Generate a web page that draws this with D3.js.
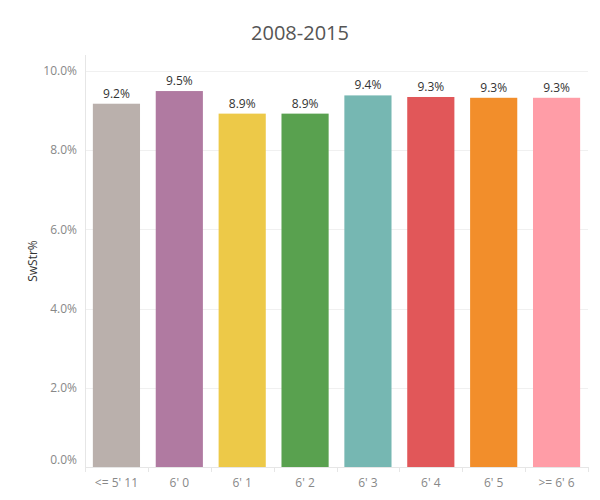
<html>
<head>
<script src="https://d3js.org/d3.v7.min.js"></script>
<style>
body { margin: 0; background: #fff; }
text { font-family: "Open Sans", "Noto Sans", sans-serif; }
</style>
</head>
<body>
<svg width="600" height="500"></svg>
<script>
var heights = ["<= 5' 11", "6' 0", "6' 1", "6' 2", "6' 3", "6' 4", "6' 5", ">= 6' 6"];
var swstr = [9.17, 9.49, 8.92, 8.92, 9.38, 9.34, 9.32, 9.32];
var colors = ["#BAB0AC", "#B07AA1", "#EDC948", "#59A14F", "#76B7B2", "#E15759", "#F28E2B", "#FF9DA7"];
var yTicks = [0, 2, 4, 6, 8, 10];

var svg = d3.select("svg");
var plotL = 85, plotR = 588, plotT = 55, plotB = 467;

var x = d3.scaleBand().domain(heights).range([plotL, plotR]).paddingInner(0.25).paddingOuter(0.125);
var y = d3.scaleLinear().domain([0, 10.4]).range([plotB, plotT]);

// title
svg.append("text")
  .attr("x", 300).attr("y", 40)
  .attr("text-anchor", "middle")
  .attr("font-size", 20)
  .attr("fill", "#555")
  .text("2008-2015");

// gridlines
svg.append("g").selectAll("line").data(yTicks.slice(1)).enter().append("line")
  .attr("x1", plotL).attr("x2", plotR)
  .attr("y1", function(d) { return Math.round(y(d)) + 0.5; })
  .attr("y2", function(d) { return Math.round(y(d)) + 0.5; })
  .attr("stroke", "#f0f0f0");

// y axis
var yAxis = svg.append("g")
  .attr("transform", "translate(" + plotL + ",0)")
  .call(d3.axisLeft(y).tickValues(yTicks).tickSize(0).tickPadding(8)
    .tickFormat(function(d) { return d.toFixed(1) + "%"; }));
yAxis.select(".domain").remove();
yAxis.selectAll("text").attr("fill", "#888").attr("font-size", 12)
  .attr("font-family", "'Open Sans', sans-serif")
  .attr("dy", function(d) { return d == 0 ? "-0.3em" : "0.32em"; });

svg.append("line")
  .attr("x1", plotL + 0.5).attr("x2", plotL + 0.5)
  .attr("y1", plotT).attr("y2", plotB + 5)
  .attr("stroke", "#e6e6e6");

// bars
svg.append("g").selectAll("rect").data(swstr).enter().append("rect")
  .attr("x", function(d, i) { return x(heights[i]); })
  .attr("y", function(d) { return y(d); })
  .attr("width", x.bandwidth())
  .attr("height", function(d) { return y(0) - y(d); })
  .attr("fill", function(d, i) { return colors[i]; });

// bar labels
svg.append("g").selectAll("text").data(swstr).enter().append("text")
  .attr("x", function(d, i) { return x(heights[i]) + x.bandwidth() / 2; })
  .attr("y", function(d) { return y(d) - 6; })
  .attr("text-anchor", "middle")
  .attr("font-size", 12)
  .attr("fill", "#333")
  .text(function(d) { return d.toFixed(1) + "%"; });

// x axis
svg.append("line")
  .attr("x1", plotL).attr("x2", plotR)
  .attr("y1", plotB + 0.5).attr("y2", plotB + 0.5)
  .attr("stroke", "#e6e6e6");

var step = x.step();
var bounds = d3.range(heights.length + 1).map(function(i) { return plotL + i * step; });
svg.append("g").selectAll("line").data(bounds).enter().append("line")
  .attr("x1", function(d) { return Math.round(d) + 0.5; })
  .attr("x2", function(d) { return Math.round(d) + 0.5; })
  .attr("y1", plotB).attr("y2", plotB + 5)
  .attr("stroke", "#e6e6e6");

svg.append("g").selectAll("text").data(heights).enter().append("text")
  .attr("x", function(d) { return x(d) + x.bandwidth() / 2; })
  .attr("y", 487)
  .attr("text-anchor", "middle")
  .attr("font-size", 12)
  .attr("fill", "#888")
  .text(function(d) { return d; });

// y axis title
svg.append("text")
  .attr("transform", "translate(37," + ((plotT + plotB) / 2) + ") rotate(-90)")
  .attr("text-anchor", "middle")
  .attr("font-size", 12)
  .attr("fill", "#333")
  .text("SwStr%");
</script>
</body>
</html>
